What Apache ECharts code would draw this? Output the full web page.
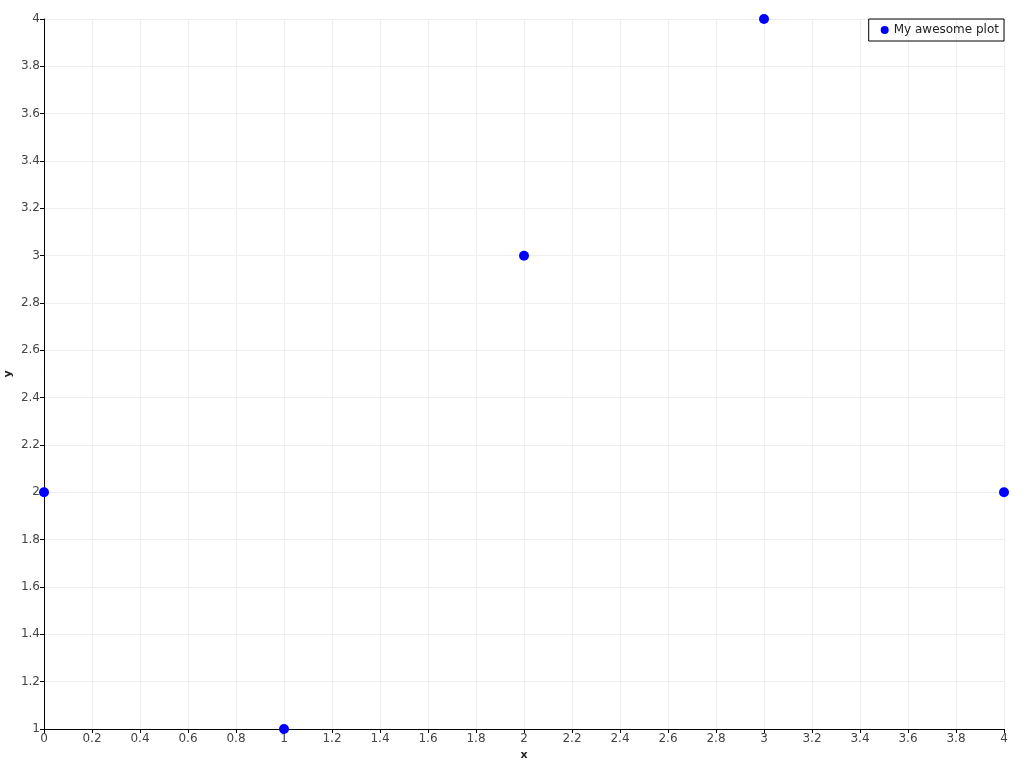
<!DOCTYPE html>
<html><head><meta charset="utf-8">
<script src="https://cdn.jsdelivr.net/npm/echarts@6/dist/echarts.min.js"></script>
<style>html,body{margin:0;padding:0;background:#fff}#c{width:1024px;height:768px}</style>
</head><body><div id="c"></div>
<script>
const xValues = [0, 1, 2, 3, 4];
const yValues = [2, 1, 3, 4, 2];
const seriesName = 'My awesome plot';
const chart = echarts.init(document.getElementById('c'), null, {renderer:'canvas'});
const fmt = v => String(Math.round(v*10)/10);
chart.setOption({
  animation:false,
  grid:{left:44, right:20, top:19, bottom:39, containLabel:false, outerBoundsMode:'none'},
  legend:{
    data:[{name:seriesName, icon:'circle'}],
    right:20, top:19, orient:'vertical',
    borderColor:'#000', borderWidth:1, borderRadius:0,
    padding:[5,5,5,12], itemWidth:8, itemHeight:8, itemGap:6,
    textStyle:{fontFamily:'DejaVu Sans', fontSize:12, color:'#222'}
  },
  xAxis:{
    type:'value', min:0, max:4, interval:0.2,
    name:'x', nameLocation:'middle', nameGap:21, nameMoveOverlap:false,
    nameTextStyle:{fontFamily:'DejaVu Sans', fontSize:11, fontWeight:'bold', color:'#222'},
    axisLine:{lineStyle:{color:'#000', width:1}},
    axisTick:{show:true, length:4, lineStyle:{color:'#000'}},
    axisLabel:{formatter:fmt, fontFamily:'DejaVu Sans', fontSize:12, color:'#444', margin:4},
    splitLine:{show:true, lineStyle:{color:'#eeeeee', width:1}}
  },
  yAxis:{
    type:'value', min:1, max:4, interval:0.2,
    name:'y', nameLocation:'middle', nameGap:30, nameRotate:90, nameMoveOverlap:false,
    nameTextStyle:{fontFamily:'DejaVu Sans', fontSize:11, fontWeight:'bold', color:'#222'},
    axisLine:{show:true, lineStyle:{color:'#000', width:1}},
    axisTick:{show:true, length:4, lineStyle:{color:'#000'}},
    axisLabel:{formatter:fmt, fontFamily:'DejaVu Sans', fontSize:12, color:'#444', margin:4},
    splitLine:{show:true, lineStyle:{color:'#eeeeee', width:1}}
  },
  series:[{
    name:seriesName, type:'scatter', symbol:'circle', symbolSize:10,
    itemStyle:{color:'#0000ff', opacity:1},
    data:xValues.map((x,i)=>[x, yValues[i]]),
    clip:false
  }]
});
</script></body></html>
